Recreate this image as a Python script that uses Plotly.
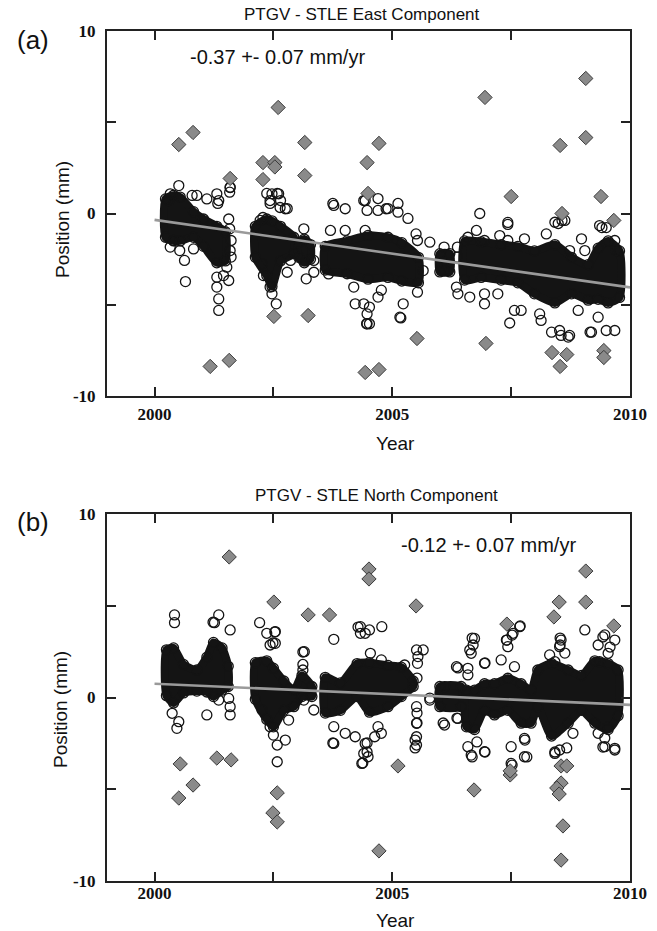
import plotly.graph_objects as go

W, H = 657, 931

# ---------------- data ----------------
year_tickvals = [2000, 2002.5, 2005, 2007.5, 2010]
year_ticktext = ["2000", "", "2005", "", "2010"]
pos_tickvals = [-10, -5, 0, 5, 10]
pos_ticktext = ["-10", "", "0", "", "10"]

panel_titles = ["PTGV - STLE East Component", "PTGV - STLE North Component"]
panel_labels = ["(a)", "(b)"]
rate_labels = ["-0.37 +- 0.07 mm/yr", "-0.12 +- 0.07 mm/yr"]

# East component: dense core of daily solutions (envelope, None = data gap)
east_core_year = [2000.23, 2000.40, 2000.54, 2000.82, 2001.03, 2001.31, 2001.49, None,
                  2002.12, 2002.36, 2002.47, 2002.65, 2002.93, None,
                  2003.03, 2003.15, 2003.28, None,
                  2003.59, 2004.05, 2004.49, 2004.91, 2005.20, 2005.55, None,
                  2006.00, 2006.21, None,
                  2006.52, 2006.87, 2007.29, 2007.64, 2007.99, 2008.42, 2008.77,
                  2009.12, 2009.33, 2009.54, 2009.78]
east_core_upper = [0.8, 1.0, 0.9, 0.1, -0.3, -0.7, -1.0, None,
                   -0.7, -0.3, -0.4, -0.7, -1.3, None,
                   -1.6, -1.4, -1.7, None,
                   -1.8, -1.5, -1.2, -1.3, -1.6, -2.4, None,
                   -2.2, -2.2, None,
                   -1.5, -1.55, -1.7, -1.8, -2.05, -1.7, -2.4,
                   -2.8, -1.9, -1.5, -2.05]
east_core_lower = [-1.3, -1.5, -1.5, -1.3, -1.8, -2.7, -2.6, None,
                   -2.4, -3.4, -4.0, -2.6, -2.2, None,
                   -2.4, -2.7, -2.5, None,
                   -3.1, -3.3, -3.6, -3.5, -3.7, -3.8, None,
                   -3.2, -3.2, None,
                   -3.65, -3.5, -3.65, -3.8, -4.4, -4.9, -4.4,
                   -4.75, -4.7, -4.9, -4.6]

east_obs_year = [2000.51, 2000.33, 2000.79, 2000.89, 2001.10, 2001.31, 2001.35, 2001.59, 2001.58, 2001.56,
                 2001.58, 2001.61, 2001.59, 2001.61, 2001.52, 2001.31, 2001.31, 2001.35, 2001.35, 2001.56,
                 2001.45, 2000.63, 2000.65, 2000.33, 2000.53, 2000.82, 2000.30, 2000.40, 2001.59, 2001.33,
                 2002.36, 2002.58, 2002.43, 2002.64, 2002.79, 2002.28, 2002.47, 2002.61, 2002.43, 2002.65,
                 2002.75, 2002.22, 2002.26, 2002.29, 2002.43, 2002.47, 2002.56, 2002.86, 2002.79, 2003.14,
                 2003.19, 2003.35, 2003.35, 2003.77, 2004.01, 2003.70, 2004.01, 2004.40, 2004.47, 2004.43,
                 2003.66, 2004.19, 2004.22, 2004.40, 2004.47, 2004.47, 2003.75, 2004.43, 2004.70, 2005.12,
                 2004.91, 2005.33, 2006.84, 2007.43, 2007.43, 2008.57, 2008.49, 2009.41, 2009.50, 2004.70,
                 2004.87, 2005.12, 2005.50, 2005.53, 2005.79, 2005.65, 2005.53, 2005.23, 2005.16, 2004.52,
                 2004.52, 2004.70, 2004.77, 2006.09, 2006.09, 2006.37, 2006.37, 2006.35, 2006.38, 2006.59,
                 2006.77, 2006.94, 2006.63, 2006.94, 2006.94, 2007.22, 2007.47, 2007.78, 2007.26, 2007.43,
                 2007.57, 2007.71, 2008.10, 2008.13, 2008.24, 2008.42, 2008.63, 2008.98, 2008.35, 2008.52,
                 2008.55, 2008.73, 2008.91, 2009.19, 2009.33, 2009.50, 2009.68, 2009.36, 2009.68, 2009.71,
                 2008.73, 2009.05, 2004.46, 2005.18, 2009.16, 2008.70]
east_obs_pos = [1.53, 1.08, 0.99, 0.99, 0.80, 1.08, 0.71, 1.44, 1.17, -0.30,
                -0.84, -1.48, -2.03, -2.39, -2.94, -3.49, -4.03, -4.68, -5.31, -3.67,
                -3.40, -2.57, -3.73, -1.84, -2.03, -1.94, 0.71, -1.48, 1.42, 0.55,
                1.10, 1.10, 0.55, 0.33, 0.27, -0.22, 1.08, 1.08, 0.71, 0.71,
                0.26, -0.38, -2.76, -3.40, -4.03, -4.40, -4.95, -2.57, -3.22, -0.84,
                -3.58, -2.57, -3.22, 0.44, 0.26, -0.93, -0.93, 0.71, 0.17, -0.93,
                -3.31, -4.03, -4.95, -4.95, -5.50, -6.04, 0.55, 0.71, 0.82, 0.55,
                0.27, -0.27, 0.00, -0.49, -0.60, -0.38, -0.55, -0.77, -0.77, 0.17,
                0.26, 0.07, -1.12, -1.48, -1.57, -3.13, -4.31, -4.95, -5.68, -5.13,
                -6.04, -4.58, -4.20, -1.84, -3.13, -1.84, -2.39, -4.03, -4.40, -1.30,
                -0.93, -1.48, -4.58, -4.40, -4.95, -4.40, -6.00, -1.39, -1.21, -1.48,
                -5.31, -5.31, -5.50, -5.86, -1.12, -0.48, -0.38, -1.39, -6.50, -6.41,
                -6.68, -6.68, -5.31, -6.50, -5.68, -6.41, -6.41, -0.66, -1.48, -2.03,
                -2.03, -2.03, -6.04, -5.72, -6.50, -6.77]

east_out_year = [2000.51, 2000.81, 2001.59, 2002.28, 2002.53, 2002.53, 2002.60, 2002.28, 2003.16, 2003.16,
                 2004.72, 2004.47, 2004.49, 2006.95, 2007.50, 2008.53, 2009.07, 2009.07, 2009.39, 2009.66,
                 2008.57, 2001.17, 2001.57, 2002.51, 2003.23, 2004.43, 2004.72, 2005.52, 2006.97, 2008.36,
                 2008.67, 2008.53, 2009.45, 2009.45]
east_out_pos = [3.78, 4.44, 1.92, 2.79, 2.79, 2.55, 5.81, 1.86, 3.89, 2.08,
                3.84, 2.79, 1.10, 6.36, 0.93, 3.73, 7.40, 4.16, 0.93, -0.38,
                0.00, -8.38, -8.05, -5.64, -5.59, -8.71, -8.55, -6.85, -7.12, -7.62,
                -7.73, -8.38, -7.51, -7.89]

east_trend_year = [2000, 2010]
east_trend_pos = [-0.35, -4.05]

# North component
north_core_year = [2000.25, 2000.40, 2000.61, 2000.89, 2001.10, 2001.24, 2001.42, 2001.55, None,
                   2002.12, 2002.36, 2002.50, 2002.72, 2002.93, 2003.10, 2003.31, None,
                   2003.59, 2003.91, 2004.26, 2004.52, 2004.91, 2005.19, 2005.44, None,
                   2006.00, 2006.45, None,
                   2006.56, 2006.73, 2006.94, 2007.15, 2007.43, 2007.71, 2007.92, 2008.06,
                   2008.35, 2008.70, 2008.98, 2009.26, 2009.54, 2009.75]
north_core_upper = [2.6, 2.7, 1.8, 1.5, 2.2, 3.0, 2.7, 1.7, None,
                    1.9, 2.0, 1.6, 0.9, 0.4, 1.2, 0.6, None,
                    1.1, 0.8, 1.85, 1.9, 1.75, 1.65, 0.9, None,
                    0.6, 0.6, None,
                    0.4, 0.4, 0.75, 0.75, 1.05, 0.75, 0.4, 1.5,
                    1.85, 1.5, 1.2, 2.0, 1.85, 1.5]
north_core_lower = [0.1, -0.3, 0.25, 0.35, 0.3, 0.05, 0.4, 0.6, None,
                    -0.1, -1.2, -1.6, -0.7, -0.5, 0.05, 0.05, None,
                    -0.85, -0.7, 0.05, -0.8, -0.5, 0.05, 0.6, None,
                    -0.5, -0.5, None,
                    -1.6, -1.75, -0.7, -0.95, -0.7, -1.4, -1.4, -0.5,
                    -2.1, -1.4, -0.7, -1.4, -1.75, -1.0]

north_obs_year = [2000.42, 2000.42, 2001.35, 2001.26, 2001.59, 2002.21, 2002.36, 2002.54, 2002.54, 2002.43,
                  2003.77, 2003.15, 2004.33, 2004.43, 2004.33, 2004.54, 2000.37, 2000.47, 2000.51, 2001.10,
                  2001.59, 2001.59, 2001.35, 2001.56, 2002.26, 2002.43, 2002.50, 2002.58, 2002.75, 2002.58,
                  2002.82, 2003.35, 2003.14, 2003.77, 2003.77, 2004.01, 2004.22, 2004.43, 2004.40, 2004.36,
                  2004.78, 2004.52, 2005.51, 2005.65, 2005.54, 2005.53, 2004.77, 2005.26, 2005.51, 2005.51,
                  2005.51, 2005.51, 2005.79, 2004.70, 2004.63, 2004.77, 2004.49, 2006.10, 2006.38, 2006.35,
                  2006.10, 2006.73, 2006.63, 2006.66, 2006.59, 2006.59, 2006.94, 2007.29, 2007.40, 2007.43,
                  2007.68, 2007.54, 2007.57, 2006.59, 2006.66, 2006.94, 2007.50, 2007.50, 2007.78, 2007.78,
                  2008.52, 2008.42, 2008.80, 2008.31, 2008.55, 2008.52, 2009.05, 2009.33, 2009.47, 2009.68,
                  2009.54, 2009.36, 2008.42, 2009.47, 2009.68, 2009.33, 2009.54, 2004.28, 2007.69, 2007.52,
                  2007.41, 2006.68, 2006.70, 2006.38, 2006.95, 2008.53, 2008.53, 2008.63, 2009.43, 2009.58,
                  2005.52, 2003.75, 2004.38, 2004.47, 2004.47, 2005.48, 2005.48, 2005.52, 2005.52, 2005.79,
                  2006.07, 2006.36, 2006.68, 2006.95, 2006.78, 2007.52, 2007.83, 2007.79, 2008.42, 2008.67,
                  2009.43, 2009.68, 2009.47, 2002.53, 2002.49, 2003.12, 2003.12, 2003.12, 2001.23]
north_obs_pos = [4.50, 4.08, 4.50, 4.08, 3.68, 4.08, 3.50, 3.59, 2.95, 2.86,
                 3.17, 2.50, 3.86, 3.50, 3.50, 2.41, -0.86, -1.68, -1.32, -0.95,
                 -0.95, -0.50, -0.14, -0.05, -0.68, -1.59, -2.05, -2.59, -2.32, -3.50,
                 -1.23, -0.68, -0.14, -1.59, -2.50, -1.95, -2.14, -2.50, -3.05, -3.59,
                 3.86, 3.68, 2.59, 2.59, 2.23, 1.86, 2.05, 1.77, -0.50, -1.41,
                 -2.14, -2.59, -0.14, -1.59, -2.14, -1.95, -3.23, -1.50, -1.14, 1.68,
                 0.59, 3.22, 2.59, 2.41, 1.59, 1.23, 1.86, 2.05, 3.13, 2.77,
                 3.86, 3.50, 1.68, -2.68, -3.14, -2.95, -2.68, -3.59, -2.23, -3.23,
                 -2.86, -3.05, -1.95, 2.32, 3.13, 2.77, 3.68, 2.86, 3.41, 3.13,
                 2.41, 1.95, 1.95, -2.68, -2.77, -1.95, -1.59, 3.84, 3.90, 3.40,
                 3.13, 3.24, 2.86, 1.61, 1.88, 3.24, 2.86, 2.42, 3.30, 2.75,
                 1.06, -2.48, -3.57, -2.97, -2.48, -2.75, -2.32, -1.39, -0.85, -0.03,
                 -1.39, -1.12, -3.24, -2.97, -2.42, -3.68, -3.24, -2.32, -2.97, -2.75,
                 -2.70, -2.86, -2.21, 3.57, 2.97, 2.48, 1.80, 1.50, 4.10]

north_out_year = [2001.57, 2002.51, 2003.23, 2003.68, 2004.51, 2004.51, 2005.50, 2007.41, 2008.40, 2008.51,
                  2009.07, 2009.07, 2009.66, 2000.54, 2001.31, 2001.61, 2000.51, 2000.81, 2002.58, 2002.49,
                  2002.58, 2005.12, 2004.72, 2006.72, 2007.48, 2007.48, 2008.55, 2008.67, 2008.55, 2008.46,
                  2008.51, 2008.59, 2008.55]
north_out_pos = [7.66, 5.20, 4.50, 4.50, 7.00, 6.46, 4.99, 4.00, 4.39, 5.20,
                 5.20, 6.89, 3.90, -3.62, -3.30, -3.40, -5.48, -4.77, -5.20, -6.29,
                 -6.78, -3.73, -8.36, -5.04, -4.22, -4.00, -3.73, -3.73, -4.66, -4.93,
                 -5.26, -7.00, -8.86]

north_trend_year = [2000, 2010]
north_trend_pos = [0.75, -0.40]

# ---------------- figure ----------------
INK = "#141414"


def core_polygon(years, upper, lower):
    xs, ys = [], []
    seg = []
    for yr, hi, lo in list(zip(years, upper, lower)) + [(None, None, None)]:
        if yr is None:
            if seg:
                sx = [s[0] for s in seg]
                xs += sx + sx[::-1] + [sx[0], None]
                ys += [s[1] for s in seg] + [s[2] for s in seg][::-1] + [seg[0][1], None]
            seg = []
        else:
            seg.append((yr, hi, lo))
    return xs, ys


def edge_points(years, upper, lower):
    xs, ys = [], []
    for yr, hi, lo in zip(years, upper, lower):
        if yr is not None:
            xs += [yr, yr]
            ys += [hi, lo]
    return xs, ys


fig = go.Figure()
panels = [
    ("x", "y", east_core_year, east_core_upper, east_core_lower, east_obs_year, east_obs_pos,
     east_out_year, east_out_pos, east_trend_year, east_trend_pos),
    ("x2", "y2", north_core_year, north_core_upper, north_core_lower, north_obs_year, north_obs_pos,
     north_out_year, north_out_pos, north_trend_year, north_trend_pos),
]
for xa, ya, cy, cu, cl, oy, op, uy, up, ty, tp in panels:
    px_, py_ = core_polygon(cy, cu, cl)
    fig.add_trace(go.Scatter(x=px_, y=py_, xaxis=xa, yaxis=ya, mode="lines", fill="toself",
                             fillcolor=INK, line=dict(color=INK, width=8, shape="spline", smoothing=0.6),
                             hoverinfo="skip", showlegend=False))
    ex, ey = edge_points(cy, cu, cl)
    fig.add_trace(go.Scatter(x=ex + oy, y=ey + op, xaxis=xa, yaxis=ya, mode="markers",
                             marker=dict(symbol="circle-open", size=10, color=INK,
                                         line=dict(width=1.3, color=INK)),
                             showlegend=False))
    fig.add_trace(go.Scatter(x=ty, y=tp, xaxis=xa, yaxis=ya, mode="lines",
                             line=dict(color="#9a9a9a", width=2.6), showlegend=False))
    fig.add_trace(go.Scatter(x=uy, y=up, xaxis=xa, yaxis=ya, mode="markers",
                             marker=dict(symbol="diamond", size=11, color="#8a8a8a",
                                         line=dict(width=1, color="#3a3a3a")),
                             showlegend=False))

xdom = [107 / W, 630 / W]
ydom_a = [1 - 396 / H, 1 - 31 / H]
ydom_b = [1 - 881 / H, 1 - 514 / H]

tickfont = dict(family="Liberation Serif, Times New Roman, serif", size=17, color="#111", weight="bold")
common = dict(showline=True, linecolor="#222", linewidth=2, mirror="ticks", ticks="inside",
              ticklen=9, tickwidth=1.5, tickcolor="#222", showgrid=False, zeroline=False,
              tickfont=tickfont, automargin=False)

fig.update_layout(
    width=W, height=H, margin=dict(l=0, r=0, t=0, b=0),
    paper_bgcolor="white", plot_bgcolor="white", showlegend=False,
    xaxis=dict(domain=xdom, range=[1999, 2010], anchor="y", tickvals=year_tickvals,
               ticktext=year_ticktext, ticklabelstandoff=2, **common),
    yaxis=dict(domain=ydom_a, range=[-10, 10], anchor="x", tickvals=pos_tickvals,
               ticktext=pos_ticktext, ticklabelstandoff=6, **common),
    xaxis2=dict(domain=xdom, range=[1999, 2010], anchor="y2", tickvals=year_tickvals,
                ticktext=year_ticktext, ticklabelstandoff=-4, **common),
    yaxis2=dict(domain=ydom_b, range=[-10, 10], anchor="x2", tickvals=pos_tickvals,
                ticktext=pos_ticktext, ticklabelstandoff=6, **common),
)


def ann(text, x, y, size, family="Liberation Sans, Arial, sans-serif", angle=0):
    fig.add_annotation(text=text, x=x / W, y=1 - y / H, xref="paper", yref="paper",
                       showarrow=False, xanchor="center", yanchor="middle", textangle=angle,
                       font=dict(family=family, size=size, color="#111"))


ann(panel_titles[0], 362, 15, 17)
ann(panel_titles[1], 376, 495, 17)
ann(panel_labels[0], 33, 40, 26)
ann(panel_labels[1], 33, 522, 26)
ann(rate_labels[0], 277, 57, 20)
ann(rate_labels[1], 488, 545, 20)
ann("Year", 395, 443, 19)
ann("Year", 395, 920, 19)
ann("Position (mm)", 62, 220, 19, angle=-90)
ann("Position (mm)", 60, 710, 19, angle=-90)

fig.write_html("out.html")
